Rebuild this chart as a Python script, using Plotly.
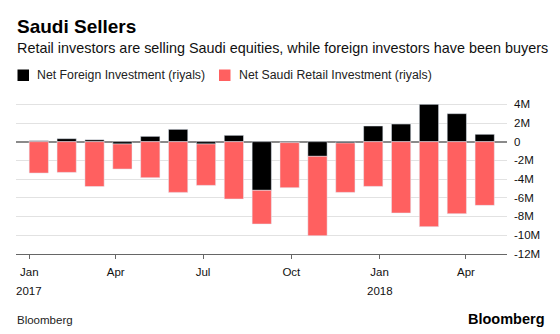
import datetime as dt
import plotly.graph_objects as go

# Monthly net flows into Saudi equities, millions of riyals
months = ["2017-01", "2017-02", "2017-03", "2017-04", "2017-05", "2017-06",
          "2017-07", "2017-08", "2017-09", "2017-10", "2017-11", "2017-12",
          "2018-01", "2018-02", "2018-03", "2018-04", "2018-05"]
foreign = [0.10, 0.32, 0.20, -0.25, 0.57, 1.32, -0.25, 0.68, -5.21,
           -0.10, -1.57, -0.14, 1.68, 1.89, 4.00, 3.00, 0.79]
retail = [-3.36, -3.29, -4.80, -2.68, -3.86, -5.43, -4.43, -6.14, -3.61,
          -4.83, -8.50, -5.29, -4.79, -7.64, -9.10, -7.71, -6.82]

y_ticks = [-12, -10, -8, -6, -4, -2, 0, 2, 4]
y_tick_text = ["-12M", "-10M", "-8M", "-6M", "-4M", "-2M", "0", "2M", "4M"]

x_tick_dates = ["2017-01-01", "2017-04-01", "2017-07-01", "2017-10-01",
                "2018-01-01", "2018-04-01"]
x_tick_text = ["Jan", "Apr", "Jul", "Oct", "Jan", "Apr"]
year_labels = {"2017-01-01": "2017", "2018-01-01": "2018"}

RED = "#ff6060"
BLACK = "#000000"
FONT = "Liberation Sans, Arial, Helvetica, sans-serif"

W, H = 560, 334
ML, MR, MT, MB = 16, 53, 102, 80
PW, PH = W - ML - MR, H - MT - MB

# bars sit on an even monthly step; calendar ticks follow a day scale
x_pos = list(range(len(months)))
start = dt.date(2017, 1, 1)


def date_pos(s):
    d = dt.date.fromisoformat(s)
    return -0.34 + (d - start).days / 29.04


def px_x(px):
    return (px - ML) / PW


def px_y(py):
    return (H - MB - py) / PH


fig = go.Figure()
fig.add_bar(x=x_pos, y=[v * 1e6 for v in foreign], marker_color=BLACK,
            width=0.69, name="Net Foreign Investment (riyals)")
fig.add_bar(x=x_pos, y=[v * 1e6 for v in retail], marker_color=RED,
            width=0.69, name="Net Saudi Retail Investment (riyals)")

annotations = [
    dict(text="<b>Saudi Sellers</b>", x=px_x(15), y=px_y(26.5),
         font=dict(size=19, color="#000")),
    dict(text="Retail investors are selling Saudi equities, while foreign investors have been buyers",
         x=px_x(15), y=px_y(47.5), font=dict(size=14.4, color="#111")),
    dict(text="Net Foreign Investment (riyals)", x=px_x(35), y=px_y(75),
         font=dict(size=12.3, color="#222")),
    dict(text="Net Saudi Retail Investment (riyals)", x=px_x(236.5), y=px_y(75),
         font=dict(size=12.3, color="#222")),
    dict(text="Bloomberg", x=px_x(15), y=px_y(320),
         font=dict(size=11.5, color="#222")),
]
for a in annotations:
    a.update(xref="paper", yref="paper", xanchor="left", yanchor="middle",
             showarrow=False)
annotations.append(dict(text="<b>Bloomberg</b>", x=px_x(547), y=px_y(319),
                        xref="paper", yref="paper", xanchor="right",
                        yanchor="middle", showarrow=False,
                        font=dict(size=14.5, color="#000")))
for d, label in year_labels.items():
    annotations.append(dict(text=label, x=date_pos(d), y=px_y(290.5),
                            xref="x", yref="paper", xanchor="center",
                            yanchor="middle", showarrow=False,
                            font=dict(size=11.5, color="#111")))

shapes = []
for x0, color in ((17.5, BLACK), (219, RED)):
    shapes.append(dict(type="rect", xref="paper", yref="paper",
                       x0=px_x(x0), x1=px_x(x0 + 11.5),
                       y0=px_y(81), y1=px_y(69.5),
                       fillcolor=color, line=dict(width=0)))

fig.update_layout(
    width=W, height=H,
    margin=dict(l=ML, r=MR, t=MT, b=MB, pad=0),
    barmode="relative",
    bargap=0.3,
    showlegend=False,
    plot_bgcolor="#ffffff",
    paper_bgcolor="#ffffff",
    font=dict(family=FONT, size=11.5, color="#111"),
    annotations=annotations,
    shapes=shapes,
    xaxis=dict(
        range=[-0.818, 16.80],
        tickmode="array",
        tickvals=[date_pos(d) for d in x_tick_dates],
        ticktext=x_tick_text,
        ticks="outside", ticklen=4, tickcolor="#666", tickwidth=1,
        ticklabelstandoff=3,
        showline=True, linecolor="#666", linewidth=1.3,
        showgrid=False, zeroline=False,
        tickfont=dict(size=11.5, color="#111"),
        fixedrange=True,
    ),
    yaxis=dict(
        side="right",
        range=[-12.03e6, 4.25e6],
        tickmode="array",
        tickvals=[v * 1e6 for v in y_ticks],
        ticktext=y_tick_text,
        ticks="", ticklabelstandoff=6,
        showgrid=True, gridcolor="#e2e2e2", gridwidth=1,
        zeroline=True, zerolinecolor="#8a8a8a", zerolinewidth=1.5,
        showline=False,
        tickfont=dict(size=11.5, color="#111"),
        fixedrange=True,
    ),
)

fig.write_html("out.html")
